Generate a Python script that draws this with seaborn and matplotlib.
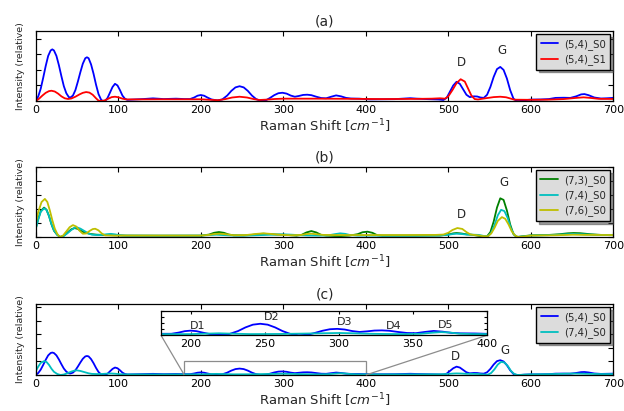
import matplotlib
matplotlib.use("Agg")
import matplotlib.pyplot as plt
import seaborn as sns
import numpy as np
import pandas as pd
from mpl_toolkits.axes_grid1.inset_locator import mark_inset

# ---------------- data ----------------
# (5,4)_S0
b54s0_x = [0, 3, 6, 9, 12, 15, 18, 20, 22, 25, 28, 31, 34, 37, 40, 42, 45, 48, 51, 54, 57, 60, 62, 64,
           67, 70, 73, 76, 79, 81, 84, 87, 90, 93, 96, 99, 102, 105, 108, 111, 120, 130, 142, 155, 170,
           180, 187, 192, 196, 200, 204, 208, 213, 220, 226, 232, 237, 242, 247, 252, 257, 262, 267, 273,
           279, 284, 289, 294, 299, 304, 309, 314, 319, 324, 329, 334, 340, 346, 352, 358, 364, 370, 376,
           382, 392, 405, 420, 435, 445, 454, 462, 475, 488, 494, 498, 502, 506, 510, 514, 518, 522, 526,
           531, 535, 539, 543, 547, 551, 555, 559, 563, 567, 571, 575, 579, 583, 587, 592, 600, 612, 622,
           630, 640, 648, 655, 661, 665, 670, 677, 685, 692, 700]
b54s0_y = [0.0, 0.06, 0.16, 0.30, 0.45, 0.58, 0.65, 0.664, 0.65, 0.58, 0.46, 0.32, 0.19, 0.10, 0.05, 0.045,
           0.07, 0.14, 0.25, 0.37, 0.48, 0.55, 0.562, 0.55, 0.47, 0.35, 0.21, 0.09, 0.02, 0.0, 0.0, 0.04,
           0.11, 0.18, 0.221, 0.20, 0.14, 0.07, 0.03, 0.015, 0.02, 0.025, 0.034, 0.025, 0.03, 0.025, 0.025,
           0.045, 0.068, 0.077, 0.068, 0.045, 0.02, 0.008, 0.02, 0.07, 0.13, 0.175, 0.19, 0.175, 0.13, 0.07,
           0.025, 0.0, 0.01, 0.04, 0.075, 0.10, 0.106, 0.095, 0.07, 0.055, 0.065, 0.078, 0.081, 0.075,
           0.055, 0.038, 0.035, 0.055, 0.072, 0.06, 0.04, 0.032, 0.03, 0.021, 0.022, 0.024, 0.03, 0.036,
           0.03, 0.024, 0.02, 0.013, 0.04, 0.12, 0.20, 0.247, 0.22, 0.15, 0.08, 0.05, 0.06, 0.058, 0.045,
           0.04, 0.08, 0.18, 0.31, 0.41, 0.438, 0.40, 0.29, 0.14, 0.03, 0.0, 0.0, 0.01, 0.018, 0.02, 0.025,
           0.04, 0.042, 0.04, 0.06, 0.085, 0.089, 0.075, 0.045, 0.032, 0.035, 0.04]

# (5,4)_S1
r54s1_x = [0, 4, 8, 12, 16, 19, 23, 27, 31, 35, 39, 43, 48, 53, 57, 61, 65, 69, 73, 76, 80, 84, 88, 92,
           96, 100, 105, 110, 150, 200, 212, 221, 230, 238, 247, 256, 264, 271, 280, 290, 300, 340, 380,
           420, 460, 480, 490, 496, 500, 505, 510, 515, 520, 524, 528, 532, 536, 545, 555, 563, 570, 576,
           580, 600, 620, 640, 655, 664, 672, 682, 700]
r54s1_y = [0.0, 0.03, 0.07, 0.105, 0.127, 0.132, 0.122, 0.095, 0.06, 0.035, 0.026, 0.032, 0.055, 0.085,
           0.105, 0.115, 0.108, 0.08, 0.035, 0.005, 0.0, 0.01, 0.03, 0.05, 0.055, 0.048, 0.03, 0.02, 0.022,
           0.022, 0.015, 0.01, 0.025, 0.045, 0.055, 0.045, 0.025, 0.013, 0.018, 0.026, 0.03, 0.03, 0.028,
           0.025, 0.027, 0.03, 0.035, 0.03, 0.06, 0.14, 0.23, 0.28, 0.25, 0.16, 0.07, 0.025, 0.02, 0.035,
           0.05, 0.055, 0.048, 0.03, 0.017, 0.015, 0.017, 0.025, 0.04, 0.047, 0.04, 0.028, 0.026]

# (7,3)_S0
g73s0_x = [0, 3, 6, 10, 13, 16, 19, 22, 26, 30, 34, 38, 43, 47, 51, 56, 61, 67, 74, 85, 98, 110, 150,
           200, 210, 216, 222, 228, 234, 240, 252, 262, 270, 276, 283, 292, 300, 309, 316, 322, 328, 334,
           340, 346, 352, 362, 370, 380, 390, 396, 402, 408, 414, 420, 460, 490, 500, 506, 510, 516, 522,
           528, 535, 542, 547, 551, 555, 559, 563, 567, 571, 575, 579, 583, 590, 600, 620, 635, 645, 652,
           660, 672, 685, 700]
g73s0_y = [0.128, 0.26, 0.37, 0.42, 0.39, 0.30, 0.18, 0.09, 0.03, 0.0, 0.02, 0.06, 0.11, 0.128, 0.115,
           0.08, 0.057, 0.042, 0.033, 0.028, 0.024, 0.02, 0.019, 0.019, 0.035, 0.06, 0.071, 0.06, 0.035,
           0.024, 0.022, 0.03, 0.043, 0.047, 0.042, 0.035, 0.033, 0.025, 0.019, 0.03, 0.065, 0.085, 0.065,
           0.03, 0.02, 0.015, 0.014, 0.02, 0.04, 0.068, 0.076, 0.06, 0.025, 0.019, 0.019, 0.022, 0.035,
           0.052, 0.057, 0.05, 0.038, 0.033, 0.02, 0.008, 0.01, 0.07, 0.22, 0.42, 0.553, 0.53, 0.38, 0.18,
           0.04, 0.0, 0.01, 0.024, 0.028, 0.04, 0.053, 0.057, 0.054, 0.04, 0.03, 0.028]

# (7,4)_S0
c74s0_x = [0, 3, 6, 10, 13, 16, 19, 22, 26, 30, 34, 38, 43, 47, 50, 54, 59, 64, 68, 74, 80, 86, 91, 96,
           102, 108, 150, 200, 212, 219, 226, 240, 260, 276, 290, 300, 310, 320, 330, 345, 355, 363, 369,
           375, 381, 390, 400, 420, 460, 490, 500, 506, 510, 516, 522, 530, 537, 543, 548, 552, 556, 560,
           564, 568, 572, 576, 580, 584, 590, 600, 620, 635, 645, 651, 660, 672, 685, 700]
c74s0_y = [0.118, 0.25, 0.36, 0.41, 0.385, 0.30, 0.185, 0.095, 0.03, 0.0, 0.015, 0.05, 0.10, 0.13, 0.137,
           0.12, 0.085, 0.05, 0.033, 0.028, 0.03, 0.04, 0.045, 0.038, 0.024, 0.019, 0.018, 0.02, 0.028,
           0.033, 0.028, 0.02, 0.022, 0.028, 0.034, 0.038, 0.033, 0.026, 0.022, 0.02, 0.025, 0.042, 0.052,
           0.045, 0.028, 0.02, 0.02, 0.019, 0.02, 0.022, 0.032, 0.043, 0.047, 0.043, 0.035, 0.033, 0.03,
           0.015, 0.01, 0.06, 0.17, 0.31, 0.388, 0.37, 0.27, 0.12, 0.03, 0.0, 0.008, 0.02, 0.025, 0.033,
           0.04, 0.043, 0.04, 0.033, 0.028, 0.027]

# (7,6)_S0
y76s0_x = [0, 3, 7, 11, 14, 17, 20, 23, 26, 29, 33, 37, 41, 45, 49, 53, 57, 61, 65, 69, 72, 76, 80, 84,
           95, 150, 200, 210, 216, 223, 230, 240, 255, 268, 276, 284, 295, 310, 322, 328, 334, 340, 348,
           360, 400, 450, 485, 494, 500, 505, 511, 517, 522, 527, 535, 542, 548, 552, 556, 560, 565, 569,
           573, 577, 581, 585, 592, 600, 630, 645, 651, 665, 700]
y76s0_y = [0.20, 0.36, 0.50, 0.544, 0.50, 0.38, 0.24, 0.12, 0.045, 0.0, 0.02, 0.08, 0.14, 0.17, 0.15,
           0.09, 0.047, 0.05, 0.085, 0.113, 0.118, 0.095, 0.05, 0.024, 0.02, 0.02, 0.02, 0.03, 0.042, 0.047,
           0.04, 0.025, 0.028, 0.045, 0.052, 0.045, 0.032, 0.025, 0.03, 0.042, 0.047, 0.04, 0.03, 0.028,
           0.028, 0.028, 0.03, 0.035, 0.06, 0.10, 0.128, 0.115, 0.07, 0.035, 0.025, 0.012, 0.01, 0.05,
           0.13, 0.23, 0.284, 0.26, 0.18, 0.08, 0.02, 0.0, 0.008, 0.02, 0.025, 0.03, 0.033, 0.03, 0.028]

x_ticks = [0, 100, 200, 300, 400, 500, 600, 700]
inset_ticks = [200, 250, 300, 350, 400]
panel_titles = ["(a)", "(b)", "(c)"]
peak_labels = ["D", "G"]
inset_labels = ["D1", "D2", "D3", "D4", "D5"]
inset_label_x = [205, 255, 304, 337, 372]
inset_label_y = [0.15, 0.30, 0.22, 0.15, 0.165]

# ---------------- style ----------------
sns.set_style("ticks")
plt.rcParams.update({
    "font.family": ["DejaVu Sans"],
    "xtick.direction": "in", "ytick.direction": "in",
    "xtick.top": True, "ytick.right": True,
    "xtick.major.size": 3.5, "ytick.major.size": 3.5,
    "axes.edgecolor": "black", "axes.linewidth": 0.9,
    "xtick.color": "black", "ytick.color": "black",
})

BLUE, RED, GREEN, CYAN, YELLOW = "#0000ff", "#ff0000", "#008000", "#00bfbf", "#bfbf00"

W, H = 624, 411
fig = plt.figure(figsize=(W / 100, H / 100), dpi=100)

def ax_px(l, t, r, b):
    return fig.add_axes([l / W, 1 - b / H, (r - l) / W, (b - t) / H])

axes = [ax_px(35.8, 31, 613.3, 101), ax_px(35.8, 167, 613.3, 237), ax_px(35.8, 304, 613.3, 375)]

def line(ax, x, y, color, label=None):
    df = pd.DataFrame({"x": x, "y": y})
    sns.lineplot(data=df, x="x", y="y", ax=ax, color=color, lw=1.3, label=label,
                 estimator=None, sort=False)

def style(ax, title, ylim, yticks):
    ax.set_xlim(0, 700)
    ax.set_ylim(*ylim)
    ax.set_xticks(x_ticks)
    ax.set_yticks(yticks)
    ax.set_yticklabels([])
    ax.tick_params(axis="x", labelsize=8, pad=3)
    ax.set_title(title, fontsize=10, pad=4)
    ax.set_xlabel("Raman Shift [$cm^{-1}$]", fontsize=9.5, labelpad=2)
    ax.set_ylabel("Intensity (relative)", fontsize=6.8, labelpad=4)
    ax.legend(loc="upper right", fontsize=7.3, fancybox=False, shadow=True,
              facecolor="#dcdcdc", edgecolor="black", framealpha=1,
              handlelength=1.7, borderpad=0.45, labelspacing=0.45, handletextpad=0.6,
              borderaxespad=0.3)

# (a)
ax = axes[0]
line(ax, b54s0_x, b54s0_y, BLUE, "(5,4)_S0")
line(ax, r54s1_x, r54s1_y, RED, "(5,4)_S1")
style(ax, panel_titles[0], (0, 0.9), [0, 0.2, 0.4, 0.6, 0.8])
ax.text(516, 0.50, peak_labels[0], ha="center", va="center", fontsize=8.5)
ax.text(565, 0.65, peak_labels[1], ha="center", va="center", fontsize=8.5)

# (b)
ax = axes[1]
line(ax, g73s0_x, g73s0_y, GREEN, "(7,3)_S0")
line(ax, c74s0_x, c74s0_y, CYAN, "(7,4)_S0")
line(ax, y76s0_x, y76s0_y, YELLOW, "(7,6)_S0")
style(ax, panel_titles[1], (0, 1.0), [0, 0.2, 0.4, 0.6, 0.8, 1.0])
ax.text(516, 0.32, peak_labels[0], ha="center", va="center", fontsize=8.5)
ax.text(567, 0.78, peak_labels[1], ha="center", va="center", fontsize=8.5)

# (c)
ax = axes[2]
line(ax, b54s0_x, b54s0_y, BLUE, "(5,4)_S0")
line(ax, c74s0_x, c74s0_y, CYAN, "(7,4)_S0")
style(ax, panel_titles[2], (0, 2.1), [0, 0.4, 0.8, 1.2, 1.6, 2.0])
ax.text(509, 0.56, peak_labels[0], ha="center", va="center", fontsize=8.5)
ax.text(569, 0.73, peak_labels[1], ha="center", va="center", fontsize=8.5)

# inset
axins = ax_px(161, 311, 487, 335.3)
line(axins, b54s0_x, b54s0_y, BLUE)
line(axins, c74s0_x, c74s0_y, CYAN)
axins.set_xlim(180, 400)
axins.set_ylim(0, 0.4)
axins.set_xticks(inset_ticks)
axins.set_yticks([0, 0.1, 0.2, 0.3, 0.4])
axins.set_yticklabels([])
axins.set_xlabel("")
axins.set_ylabel("")
axins.tick_params(axis="x", labelsize=8, pad=3)
axins.tick_params(axis="both", length=2.5)
for lx, ly, lt in zip(inset_label_x, inset_label_y, inset_labels):
    axins.text(lx, ly, lt, ha="center", va="center", fontsize=8)
mark_inset(ax, axins, loc1=3, loc2=4, fc="none", ec="0.55", lw=0.9)

fig.savefig("out.png", dpi=100)
